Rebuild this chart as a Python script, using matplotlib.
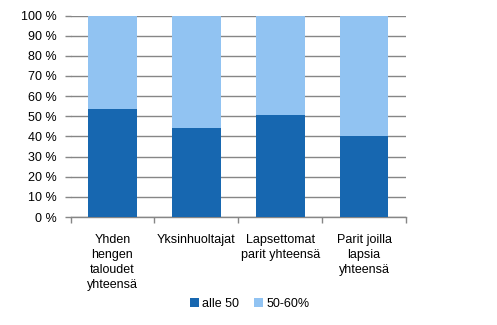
import matplotlib
matplotlib.use('Agg')
import matplotlib.pyplot as plt
import numpy as np
from matplotlib.ticker import FixedLocator, NullFormatter

plt.rcParams['font.family'] = ['Liberation Sans', 'DejaVu Sans']

categories = ['Yhden\nhengen\ntaloudet\nyhteensä', 'Yksinhuoltajat',
              'Lapsettomat\nparit yhteensä', 'Parit joilla\nlapsia\nyhteensä']
alle50 = [53.7, 44.3, 50.7, 40.0]
v50_60 = [100 - v for v in alle50]
series_names = ['alle 50', '50-60%']
yticks = list(range(0, 101, 10))
ytick_labels = [f'{t} %' for t in yticks]

dark = '#1767B0'
light = '#91C3F2'
grid = '#868686'

fig = plt.figure(figsize=(4.97, 3.25), dpi=100)
ax = fig.add_axes([70.5 / 497, 1 - 217 / 325, (406 - 70.5) / 497, (217 - 15.5) / 325])

x = np.arange(len(categories))
ax.bar(x, alle50, width=0.58, color=dark, label=series_names[0], zorder=3)
ax.bar(x, v50_60, bottom=alle50, width=0.58, color=light, label=series_names[1], zorder=3)

ax.set_xlim(-0.5, len(categories) - 0.5)
ax.set_ylim(0, 100)
ax.set_yticks(yticks)
ax.set_yticklabels(ytick_labels, fontsize=9)
ax.yaxis.grid(True, color=grid, linewidth=1, zorder=0)
ax.tick_params(axis='y', length=4, color=grid, width=1, pad=6)

ax.set_xticks(x)
ax.set_xticklabels(categories, fontsize=9, linespacing=1.35)
ax.tick_params(axis='x', which='major', length=0, pad=12)
ax.xaxis.set_minor_locator(FixedLocator(np.arange(-0.5, len(categories), 1)))
ax.xaxis.set_minor_formatter(NullFormatter())
ax.tick_params(axis='x', which='minor', length=4, color=grid, width=1)
for lbl in ax.get_xticklabels():
    lbl.set_verticalalignment('top')
    lbl.set_horizontalalignment('center')
    lbl.set_multialignment('center')

for side in ['left', 'right', 'top']:
    ax.spines[side].set_visible(False)
ax.spines['bottom'].set_color(grid)
ax.spines['bottom'].set_linewidth(1)

fig.legend(loc='center', bbox_to_anchor=(250 / 497, 1 - 304 / 325), ncol=2, frameon=False,
           fontsize=9, handlelength=0.7, handleheight=0.7, handletextpad=0.3, columnspacing=1.2)

fig.savefig('out.png', dpi=100)
